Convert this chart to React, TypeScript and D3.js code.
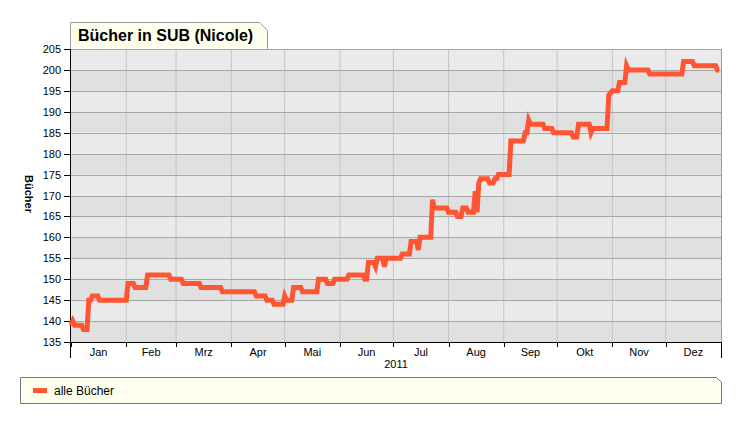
import React from "react";
import * as d3 from "d3";

// Day offsets from 2011-01-01 and the number of books on that day
const dayOffsets = [
  0, 1, 2, 6, 7, 9, 10, 11, 12, 15, 16, 31, 32, 35, 36, 42, 43, 55, 56, 62, 63, 72, 73, 84, 85,
  103, 104, 109, 110, 113, 114, 119, 120, 121, 124, 125, 129, 130, 138, 139, 143, 144, 147, 148,
  155, 156, 164, 165, 166, 167, 170, 171, 172, 175, 176, 177, 185, 186, 190, 191, 194, 195, 196,
  202, 203, 204, 211, 212, 216, 217, 219, 220, 222, 223, 226, 227, 228, 229, 230, 234, 235, 237,
  238, 239, 240, 246, 247, 254, 255, 256, 257, 258, 265, 266, 270, 271, 281, 282, 284, 285, 291,
  292, 293, 301, 302, 304, 307, 308, 311, 312, 313, 324, 325, 343, 344, 349, 350, 362, 363, 364,
];
const books = [
  139, 140, 139, 139, 138, 138, 145, 145, 146, 146, 145, 145, 149, 149, 148, 148, 151, 151, 150, 150, 149, 149, 148, 148, 147,
  147, 146, 146, 145, 145, 144, 144, 146, 145, 145, 148, 148, 147, 147, 150, 150, 149, 149, 150,
  150, 151, 151, 150, 150, 154, 154, 153, 155, 155, 153, 155, 155, 156, 156, 159, 159, 157, 160,
  160, 169, 167, 167, 166, 166, 165, 165, 167, 167, 166, 166, 171, 166, 173, 174, 174, 173, 173,
  174, 174, 175, 175, 183, 183, 185, 185, 188, 187, 187, 186, 186, 185, 185, 184, 184, 187, 187,
  185, 186, 186, 194, 195, 195, 197, 197, 201, 200, 200, 199, 199, 202, 202, 201, 201, 200, 200,
];
const monthLabels = ["Jan", "Feb", "Mrz", "Apr", "Mai", "Jun", "Jul", "Aug", "Sep", "Okt", "Nov", "Dez"];
const yTicks = [135, 140, 145, 150, 155, 160, 165, 170, 175, 180, 185, 190, 195, 200, 205];
const title = "Bücher in SUB (Nicole)";
const yTitle = "Bücher";
const yearLabel = "2011";
const seriesName = "alle Bücher";

const FONT = "Arial, 'Liberation Sans', sans-serif";
const LINE = "#ff5533";

export default function App() {
  const left = 71, right = 721, top = 49, bottom = 342;
  const start = new Date(2011, 0, 1);
  const end = new Date(2012, 0, 1);
  const x = d3.scaleTime().domain([start, end]).range([left, right]);
  const y = d3.scaleLinear().domain([135, 205]).range([bottom, top]);
  const data = dayOffsets.map((d, i) => ({ date: d3.timeDay.offset(start, d), v: books[i] }));
  const line = d3
    .line<{ date: Date; v: number }>()
    .x((d) => x(d.date))
    .y((d) => y(d.v));
  const months = d3.timeMonth.range(start, end);
  const bands = yTicks.slice(0, -1);

  return (
    <svg width={741} height={423} style={{ position: "absolute", left: 0, top: 0 }} fontFamily={FONT}>
      <rect width={741} height={423} fill="#ffffff" />
      {/* bands */}
      {bands.map((t, i) => (
        <rect
          key={t}
          x={left}
          y={y(t + 5)}
          width={right - left}
          height={y(t) - y(t + 5)}
          fill={i % 2 === 0 ? "#e0e0e0" : "#eaeaea"}
        />
      ))}
      {/* vertical grid */}
      {months.slice(1).map((m) => (
        <line key={+m} x1={x(m)} x2={x(m)} y1={top} y2={bottom} stroke="#c4c4c4" strokeWidth={1} />
      ))}
      {/* horizontal grid */}
      {yTicks.map((t) => (
        <g key={t}>
          <line x1={left} x2={right} y1={Math.round(y(t)) + 0.5} y2={Math.round(y(t)) + 0.5} stroke="#a6a6a6" />
          <line x1={64} x2={left} y1={Math.round(y(t)) + 0.5} y2={Math.round(y(t)) + 0.5} stroke="#000" />
          <text x={61} y={Math.round(y(t)) + 4} textAnchor="end" fontSize={11} fill="#000">
            {t}
          </text>
        </g>
      ))}
      {/* right border */}
      <line x1={right + 0.5} x2={right + 0.5} y1={top} y2={bottom} stroke="#9a9a9a" />
      {/* title tab */}
      <path
        d={`M${left - 0.5},${top} L${left - 0.5},22.5 L259.5,22.5 L267.5,30.5 L267.5,${top}`}
        fill="#ffffee"
        stroke="#999"
      />
      <text x={78} y={41} fontSize={16} fontWeight="bold" fill="#000">
        {title}
      </text>
      {/* axes */}
      <line x1={left - 0.5} x2={left - 0.5} y1={top} y2={358} stroke="#000" />
      <line x1={64} x2={right} y1={bottom + 0.5} y2={bottom + 0.5} stroke="#000" />
      <line x1={right + 0.5} x2={right + 0.5} y1={bottom} y2={358} stroke="#000" />
      {months.map((m, i) => {
        const mx = x(m);
        const nx = i < 11 ? x(months[i + 1]) : x(end);
        return (
          <g key={+m}>
            <line x1={Math.round(mx) + 0.5} x2={Math.round(mx) + 0.5} y1={bottom} y2={347} stroke="#000" />
            <text x={(mx + nx) / 2} y={356} textAnchor="middle" fontSize={11} fill="#000">
              {monthLabels[i]}
            </text>
          </g>
        );
      })}
      <text x={396} y={368} textAnchor="middle" fontSize={11} fill="#000">
        {yearLabel}
      </text>
      <text
        transform={`translate(25,194) rotate(90)`}
        textAnchor="middle"
        fontSize={11}
        fontWeight="bold"
        fill="#000"
      >
        {yTitle}
      </text>
      {/* series */}
      <path d={line(data) || ""} fill="none" stroke={LINE} strokeWidth={5} strokeLinejoin="miter" />
      {/* legend */}
      <path d="M20.5,377.5 L716.5,377.5 L721.5,382.5 L721.5,403.5 L20.5,403.5 Z" fill="#ffffee" stroke="#777" />
      <rect x={33} y={388} width={14} height={5} fill={LINE} />
      <text x={54} y={395} fontSize={12} fill="#000">
        {seriesName}
      </text>
    </svg>
  );
}
